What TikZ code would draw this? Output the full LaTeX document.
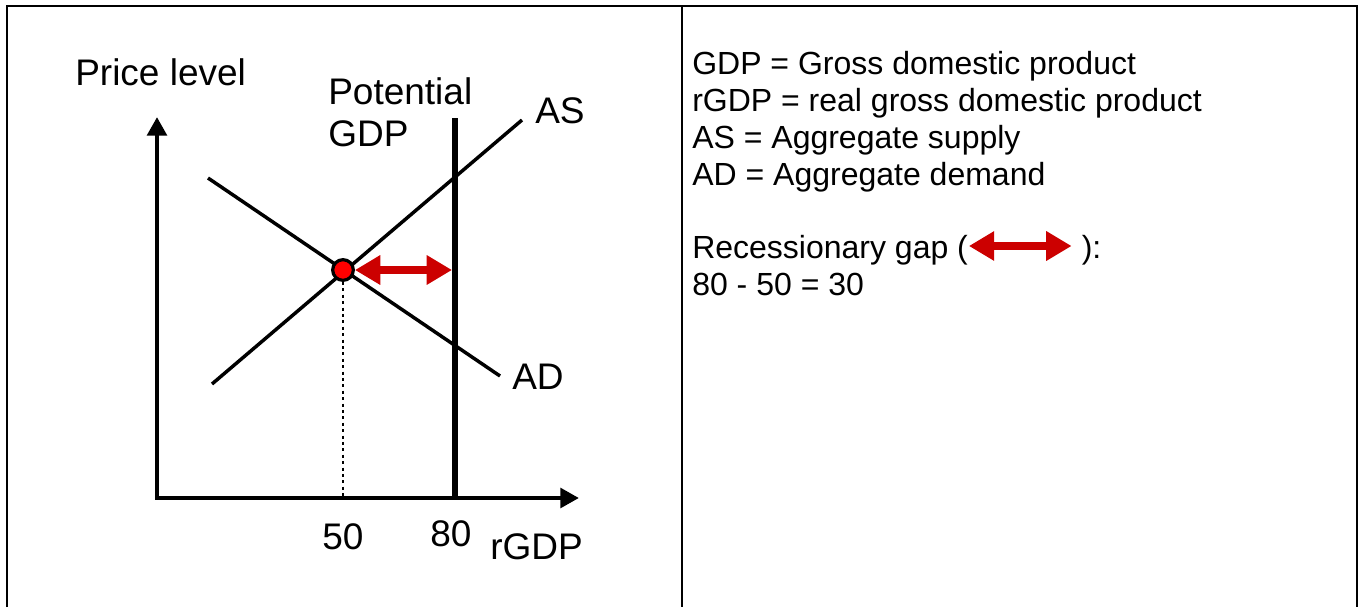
\documentclass[tikz,border=0pt]{standalone}
\usepackage{fontspec}
\setmainfont{Liberation Sans}
\usepackage{xcolor}
\usetikzlibrary{positioning, arrows.meta}
\definecolor{gapred}{RGB}{204,0,0}

\begin{document}
\begin{tikzpicture}[
    x=0.75pt, y=-0.75pt,
    every node/.style={inner sep=0pt, anchor=base west},
    label/.style={font=\fontsize{27.75pt}{33pt}\selectfont},
    legend/.style={font=\fontsize{24pt}{27.75pt}\selectfont, align=left},
    frame/.style={line width=1.5pt},
    axis/.style={line width=3.5pt, -{Triangle[length=14pt, width=14.5pt]}},
    curve/.style={line width=2.6pt},
    gap/.style={draw=gapred, line width=5.5pt, {Triangle[length=19pt, width=21pt]}-{Triangle[length=19pt, width=21pt]}}
]
\useasboundingbox (0,0) rectangle (1362,607);
% table frame
\draw[frame] (7,607) -- (7,6) -- (1357,6) -- (1357,607);
\draw[frame] (682,6) -- (682,607);

% axes and curves
\coordinate (origin) at (157,498);
\coordinate (ytip) at (157,117);
\coordinate (xtip) at (579,498);
\draw[axis] ([yshift=-1.4pt]origin) -- (ytip);
\draw[axis] ([xshift=-1.4pt]origin) -- (xtip);
\coordinate (as1) at (212,384);
\coordinate (as2) at (522,120);
\coordinate (ad1) at (208,178);
\coordinate (ad2) at (500,376);
\draw[curve] (as1) -- (as2);
\draw[curve] (ad1) -- (ad2);
\coordinate (pottop) at (455,118);
\coordinate (potbot) at (455,497);
\draw[line width=5pt] (pottop) -- (potbot);

% equilibrium and gap
\node[circle, draw, fill=red, line width=2.4pt, minimum size=15.5pt, anchor=center] (eq) at (343,270) {};
\draw[line width=2.2pt, dash pattern=on 2.3pt off 2.5pt] (eq) -- (eq |- origin);
\coordinate (gapR) at (452,270);
\draw[gap] (eq) -- (gapR);

% labels
\node[label] (pricelbl) at (75,85) {Price level};
\node[label] (potlbl) at (328,104) {Potential};
\node[label] (gdplbl) at (328,146) {GDP};
\node[label] (aslbl) at (535,123) {AS};
\node[label] (adlbl) at (512,389) {AD};
\node[label] (fifty) at (322,549) {50};
\node[label] (eighty) at (430,546) {80};
\node[label] (rgdplbl) at (490,559) {rGDP};

% legend
\node[legend] (gdpdef) at (692,74) {GDP = Gross domestic product};
\node[legend] (rgdpdef) at (692,111) {rGDP = real gross domestic product};
\node[legend] (asdef) at (692,148) {AS = Aggregate supply};
\node[legend] (addef) at (692,185) {AD = Aggregate demand};
\node[legend] (gaplbl) at (692,258) {Recessionary gap (};
\coordinate (keyL) at ([xshift=0.5pt, yshift=9pt]gaplbl.base east);
\coordinate[right=77pt of keyL] (keyR);
\draw[gap] (keyL) -- (keyR);
\node[legend, anchor=base west] (gapend) at ([xshift=7.5pt]gaplbl.base east -| keyR) {):};
\node[legend] (calc) at (692,295) {80 - 50 = 30};
\end{tikzpicture}
\end{document}
